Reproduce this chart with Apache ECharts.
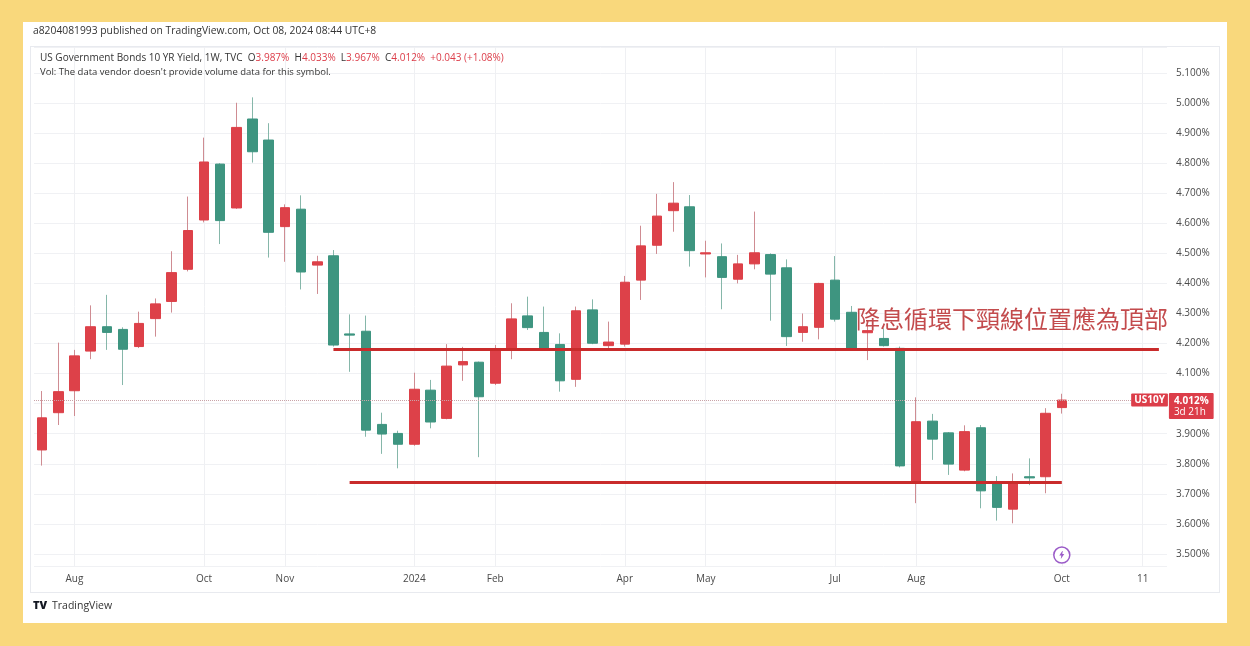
<!DOCTYPE html>
<html>
<head>
<meta charset="utf-8">
<title>US10Y 1W</title>
<script src="https://cdn.jsdelivr.net/npm/echarts@6.0.0/dist/echarts.min.js"></script>
<style>
    html, body { margin: 0; padding: 0; }
    body { width: 1250px; height: 646px; background: #f9d87c; position: relative; overflow: hidden; }
    #panel { position: absolute; left: 23px; top: 22px; width: 1204px; height: 601px; background: #fff; }
    #frame { position: absolute; left: 30px; top: 46px; width: 1188px; height: 545px; border: 1px solid #e8eaef; }
    #chart { position: absolute; left: 0; top: 0; width: 1250px; height: 646px; }
</style>
</head>
<body>
<div id="panel"></div>
<div id="frame"></div>
<div id="chart"></div>
<script>
// weekly bars, Monday of each week (last 6 are empty future slots)
var weeks = [
    '2023-07-24', '2023-07-31', '2023-08-07', '2023-08-14', '2023-08-21', '2023-08-28', '2023-09-04', '2023-09-11',
    '2023-09-18', '2023-09-25', '2023-10-02', '2023-10-09', '2023-10-16', '2023-10-23', '2023-10-30', '2023-11-06',
    '2023-11-13', '2023-11-20', '2023-11-27', '2023-12-04', '2023-12-11', '2023-12-18', '2023-12-25', '2024-01-01',
    '2024-01-08', '2024-01-15', '2024-01-22', '2024-01-29', '2024-02-05', '2024-02-12', '2024-02-19', '2024-02-26',
    '2024-03-04', '2024-03-11', '2024-03-18', '2024-03-25', '2024-04-01', '2024-04-08', '2024-04-15', '2024-04-22',
    '2024-04-29', '2024-05-06', '2024-05-13', '2024-05-20', '2024-05-27', '2024-06-03', '2024-06-10', '2024-06-17',
    '2024-06-24', '2024-07-01', '2024-07-08', '2024-07-15', '2024-07-22', '2024-07-29', '2024-08-05', '2024-08-12',
    '2024-08-19', '2024-08-26', '2024-09-02', '2024-09-09', '2024-09-16', '2024-09-23', '2024-09-30', '2024-10-07',
    '2024-10-14', '2024-10-21', '2024-10-28', '2024-11-04', '2024-11-11', '2024-11-18'
];

var opens = [
    3.846, 3.970, 4.043, 4.175, 4.256, 4.247, 4.190, 4.283, 4.340, 4.447, 4.611, 4.797, 4.651, 4.947, 4.877, 4.589,
    4.647, 4.461, 4.492, 4.232, 4.241, 3.931, 3.901, 3.865, 4.045, 3.951, 4.129, 4.138, 4.068, 4.179, 4.292, 4.237,
    4.197, 4.081, 4.312, 4.193, 4.198, 4.411, 4.527, 4.642, 4.655, 4.498, 4.489, 4.414, 4.465, 4.496, 4.452, 4.237,
    4.254, 4.411, 4.304, 4.236, 4.217, 4.184, 3.737, 3.942, 3.903, 3.779, 3.920, 3.733, 3.649, 3.757, 3.757, 3.987
];
var highs = [
    4.042, 4.203, 4.179, 4.327, 4.362, 4.254, 4.306, 4.350, 4.507, 4.689, 4.885, 4.800, 5.001, 5.019, 4.933, 4.663,
    4.693, 4.492, 4.511, 4.297, 4.293, 3.970, 3.910, 4.103, 4.079, 4.198, 4.189, 4.140, 4.195, 4.334, 4.356, 4.323,
    4.234, 4.323, 4.347, 4.273, 4.425, 4.592, 4.698, 4.737, 4.694, 4.542, 4.533, 4.495, 4.639, 4.500, 4.480, 4.300,
    4.402, 4.491, 4.325, 4.264, 4.251, 4.190, 4.021, 3.966, 3.905, 3.928, 3.929, 3.759, 3.768, 3.818, 3.985, 4.033
];
var lows = [
    3.794, 3.929, 3.959, 4.148, 4.179, 4.062, 4.185, 4.223, 4.303, 4.440, 4.603, 4.531, 4.648, 4.802, 4.486, 4.472,
    4.380, 4.365, 4.190, 4.106, 3.890, 3.833, 3.785, 3.860, 3.918, 3.948, 4.076, 3.822, 4.062, 4.148, 4.245, 4.178,
    4.040, 4.056, 4.198, 4.184, 4.190, 4.345, 4.498, 4.572, 4.456, 4.420, 4.314, 4.400, 4.447, 4.276, 4.192, 4.206,
    4.214, 4.273, 4.180, 4.145, 4.190, 3.788, 3.669, 3.813, 3.763, 3.775, 3.652, 3.611, 3.602, 3.729, 3.702, 3.967
];
var closes = [
    3.953, 4.040, 4.159, 4.256, 4.237, 4.181, 4.267, 4.332, 4.436, 4.576, 4.804, 4.609, 4.919, 4.838, 4.570, 4.652,
    4.438, 4.472, 4.195, 4.228, 3.912, 3.899, 3.865, 4.048, 3.939, 4.125, 4.140, 4.023, 4.179, 4.282, 4.253, 4.181,
    4.076, 4.309, 4.201, 4.205, 4.404, 4.525, 4.624, 4.667, 4.509, 4.502, 4.420, 4.465, 4.502, 4.431, 4.223, 4.256,
    4.400, 4.281, 4.184, 4.243, 4.193, 3.793, 3.940, 3.882, 3.799, 3.907, 3.710, 3.655, 3.738, 3.753, 3.968, 4.012
];

var tickDates = ['2023-08-07', '2023-10-02', '2023-11-06', '2024-01-01', '2024-02-05', '2024-04-01',
    '2024-05-06', '2024-07-01', '2024-08-05', '2024-10-07', '2024-11-11'];
var tickLabels = ['Aug', 'Oct', 'Nov', '2024', 'Feb', 'Apr', 'May', 'Jul', 'Aug', 'Oct', '11'];

var lastPrice = 4.012;
var necklineTop = 4.18;
var necklineBottom = 3.738;
var noteText = '降息循環下頸線位置應為頂部';

var upColor = '#dd4149', downColor = '#3e9580';
var upWick = '#cf8c92', downWick = '#86b7aa';
var tagRed = '#dc3d49';
var uiFont = '"Open Sans", "Noto Sans", sans-serif';

var candleData = [], bodyData = [];
for (var i = 0; i < opens.length; i++) {
    candleData.push([opens[i], closes[i], lows[i], highs[i]]);
    bodyData.push([opens[i], closes[i], Math.min(opens[i], closes[i]), Math.max(opens[i], closes[i])]);
}

var chart = echarts.init(document.getElementById('chart'));

var option = {
    animation: false,
    backgroundColor: 'transparent',
    textStyle: { fontFamily: uiFont },
    graphic: [
        {
            type: 'text', x: 33, y: 31, silent: true,
            style: { text: 'a8204081993 published on TradingView.com, Oct 08, 2024 08:44 UTC+8',
                fill: '#333', font: '10.3px ' + uiFont, verticalAlign: 'middle' }
        },
        {
            type: 'text', x: 40, y: 58, silent: true, z: 10,
            style: {
                text: '{n|US Government Bonds 10 YR Yield, 1W, TVC}  {k|O}{v|3.987%}  {k|H}{v|4.033%}  ' +
                    '{k|L}{v|3.967%}  {k|C}{v|4.012%}  {v|+0.043 (+1.08%)}',
                verticalAlign: 'middle', font: '10px ' + uiFont,
                rich: {
                    n: { fill: '#333', font: '10px ' + uiFont },
                    k: { fill: '#333', font: '10px ' + uiFont },
                    v: { fill: tagRed, font: '10px ' + uiFont }
                }
            }
        },
        {
            type: 'text', x: 40, y: 72, silent: true, z: 10,
            style: { text: 'Vol: The data vendor doesn\'t provide volume data for this symbol.',
                fill: '#333', font: '9.5px ' + uiFont, verticalAlign: 'middle' }
        },
        {
            type: 'text', x: 33, y: 606, silent: true,
            style: { text: 'TV', fill: '#131722', font: '900 11px ' + uiFont, verticalAlign: 'middle' }
        },
        {
            type: 'text', x: 52, y: 606, silent: true,
            style: { text: 'TradingView', fill: '#333', font: '10.5px ' + uiFont, verticalAlign: 'middle' }
        }
    ],
    grid: { left: 34, right: 83, top: 47, bottom: 80 },
    xAxis: {
        type: 'category',
        data: weeks,
        boundaryGap: true,
        axisLine: { show: false },
        axisTick: { show: false },
        splitLine: { show: false },
        axisLabel: {
            color: '#4a4a4a',
            fontSize: 10,
            margin: 8,
            interval: function (index, value) {
                return tickDates.indexOf(value) >= 0;
            },
            formatter: function (value) {
                return tickLabels[tickDates.indexOf(value)];
            }
        }
    },
    yAxis: {
        type: 'value',
        position: 'right',
        min: 3.46,
        max: 5.1865,
        splitNumber: 17,
        axisLine: { show: false },
        axisTick: { show: false },
        splitLine: { lineStyle: { color: '#f0f1f4' } },
        axisLabel: {
            color: '#4a4a4a',
            fontSize: 10,
            margin: 9,
            showMinLabel: false,
            showMaxLabel: false,
            formatter: function (v) {
                return v.toFixed(3) + '%';
            }
        }
    },
    series: [
        {
            // vertical grid lines on the month bars
            name: 'vgrid',
            type: 'line',
            data: [],
            silent: true,
            z: 1,
            markLine: {
                silent: true,
                z: 1,
                symbol: ['none', 'none'],
                label: { show: false },
                lineStyle: { color: '#eff0f3', width: 1, type: 'solid' },
                data: tickDates.map(function (d) { return { xAxis: d }; })
            }
        },
        {
            name: 'wick',
            type: 'candlestick',
            data: candleData,
            barWidth: 1,
            silent: true,
            itemStyle: {
                color: upWick, color0: downWick,
                borderColor: upWick, borderColor0: downWick, borderWidth: 1
            }
        },
        {
            name: 'US10Y',
            type: 'candlestick',
            data: bodyData,
            barWidth: 10,
            clip: false,
            silent: true,
            itemStyle: {
                color: upColor, color0: downColor,
                borderColor: upColor, borderColor0: downColor, borderWidth: 1
            },
            markLine: {
                silent: true,
                symbol: ['none', 'none'],
                label: { show: false },
                data: [
                    { yAxis: lastPrice, lineStyle: { type: 'dotted', color: '#c9a3a8', width: 1 } },
                    [
                        { coord: ['2023-11-27', necklineTop], lineStyle: { color: '#c92b2b', width: 3, type: 'solid' } },
                        { coord: ['2024-11-18', necklineTop] }
                    ],
                    [
                        { coord: ['2023-12-04', necklineBottom], lineStyle: { color: '#c92b2b', width: 3, type: 'solid' } },
                        { coord: ['2024-10-07', necklineBottom] }
                    ]
                ]
            },
            markPoint: {
                silent: true,
                data: [
                    {
                        coord: ['2024-11-18', 4.282], symbolSize: 0,
                        label: {
                            show: true, position: 'left', distance: 0, offset: [9, 0],
                            formatter: noteText, color: '#c34b4d', fontSize: 24,
                            fontFamily: '"Noto Sans CJK TC", "Noto Sans CJK SC", sans-serif'
                        }
                    },
                    {
                        coord: ['2024-11-18', lastPrice], symbolSize: 0,
                        label: {
                            show: true, position: 'left', distance: 0, offset: [9, 0],
                            formatter: 'US10Y', color: '#fff', fontSize: 10, fontWeight: 'bold',
                            backgroundColor: tagRed, padding: [2, 3, 1, 3], borderRadius: 1
                        }
                    },
                    {
                        coord: ['2024-11-18', lastPrice], symbolSize: 0,
                        label: {
                            show: true, position: 'right', distance: 0, offset: [10, 6],
                            formatter: '{a|4.012%}\n{b|3d 21h}',
                            backgroundColor: tagRed, padding: [2, 5, 1, 5], borderRadius: 1,
                            rich: {
                                a: { color: '#fff', fontSize: 10, fontWeight: 'bold', lineHeight: 12 },
                                b: { color: '#fff', fontSize: 10, lineHeight: 11 }
                            }
                        }
                    },
                    {
                        coord: ['2024-10-07', 3.4965], symbol: 'circle', symbolSize: 16,
                        itemStyle: { color: '#fff', borderColor: '#9b5cc8', borderWidth: 1.5 },
                        label: { show: false }
                    },
                    {
                        coord: ['2024-10-07', 3.4965],
                        symbol: 'path://M6,0 L0,9 L4,9 L3,16 L10,6 L6,6 L7,0 Z', symbolSize: [5, 8],
                        itemStyle: { color: '#9b5cc8' },
                        label: { show: false }
                    }
                ]
            }
        }
    ]
};

chart.setOption(option);
</script>
</body>
</html>
